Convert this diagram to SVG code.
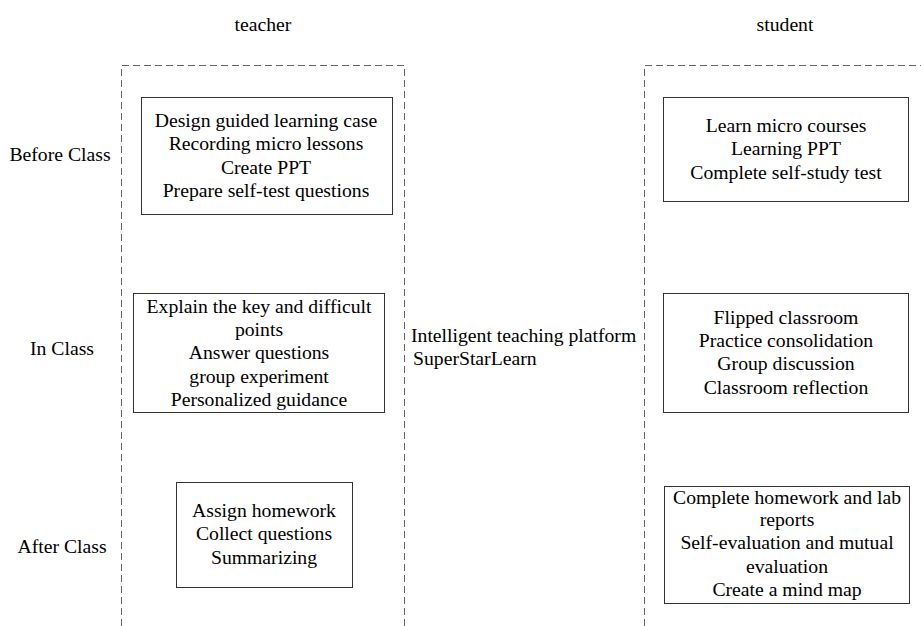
<svg xmlns="http://www.w3.org/2000/svg" width="921" height="626" viewBox="0 0 921 626">
<style>
text{font-family:"Liberation Serif","Times New Roman",serif;font-size:19.7px;fill:#000}
.c{text-anchor:middle}
.box{fill:#fff;stroke:#333;stroke-width:1}
.lane{fill:none;stroke:#666;stroke-width:1;stroke-dasharray:7,4}
</style>
<rect width="921" height="626" fill="#fff"/>
<g id="lanes">
<path class="lane" d="M121.5,626 V65.5 H404.5 V626"/>
<path class="lane" d="M644.5,626 V65.5 H921"/>
</g>
<g id="headers">
<text class="c" x="263" y="31">teacher</text>
<text class="c" x="785" y="31">student</text>
</g>
<g id="rows">
<text class="c" x="60" y="161">Before Class</text>
<text class="c" x="62" y="355">In Class</text>
<text class="c" x="62" y="553">After Class</text>
</g>
<g id="platform">
<text x="411" y="342">Intelligent teaching platform</text>
<text x="413" y="365">SuperStarLearn</text>
</g>
<g id="teacher-before">
<rect class="box" x="141.5" y="97.5" width="251" height="117"/>
<text class="c" x="266" y="127">Design guided learning case</text>
<text class="c" x="266" y="150">Recording micro lessons</text>
<text class="c" x="266" y="174">Create PPT</text>
<text class="c" x="266" y="197">Prepare self-test questions</text>
</g>
<g id="teacher-in">
<rect class="box" x="133.5" y="293.5" width="251" height="119"/>
<text class="c" x="259" y="313">Explain the key and difficult</text>
<text class="c" x="259" y="336">points</text>
<text class="c" x="259" y="359">Answer questions</text>
<text class="c" x="259" y="383">group experiment</text>
<text class="c" x="259" y="406">Personalized guidance</text>
</g>
<g id="teacher-after">
<rect class="box" x="176.5" y="482.5" width="176" height="105"/>
<text class="c" x="264" y="517">Assign homework</text>
<text class="c" x="264" y="540">Collect questions</text>
<text class="c" x="264" y="564">Summarizing</text>
</g>
<g id="student-before">
<rect class="box" x="663.5" y="97.5" width="245" height="104"/>
<text class="c" x="786" y="132">Learn micro courses</text>
<text class="c" x="786" y="155">Learning PPT</text>
<text class="c" x="786" y="179">Complete self-study test</text>
</g>
<g id="student-in">
<rect class="box" x="663.5" y="293.5" width="245" height="119"/>
<text class="c" x="786" y="324">Flipped classroom</text>
<text class="c" x="786" y="347">Practice consolidation</text>
<text class="c" x="786" y="370">Group discussion</text>
<text class="c" x="786" y="394">Classroom reflection</text>
</g>
<g id="student-after">
<rect class="box" x="664.5" y="486.5" width="245" height="117"/>
<text class="c" x="787" y="504">Complete homework and lab</text>
<text class="c" x="787" y="526">reports</text>
<text class="c" x="787" y="549">Self-evaluation and mutual</text>
<text class="c" x="787" y="573">evaluation</text>
<text class="c" x="787" y="596">Create a mind map</text>
</g>
</svg>
